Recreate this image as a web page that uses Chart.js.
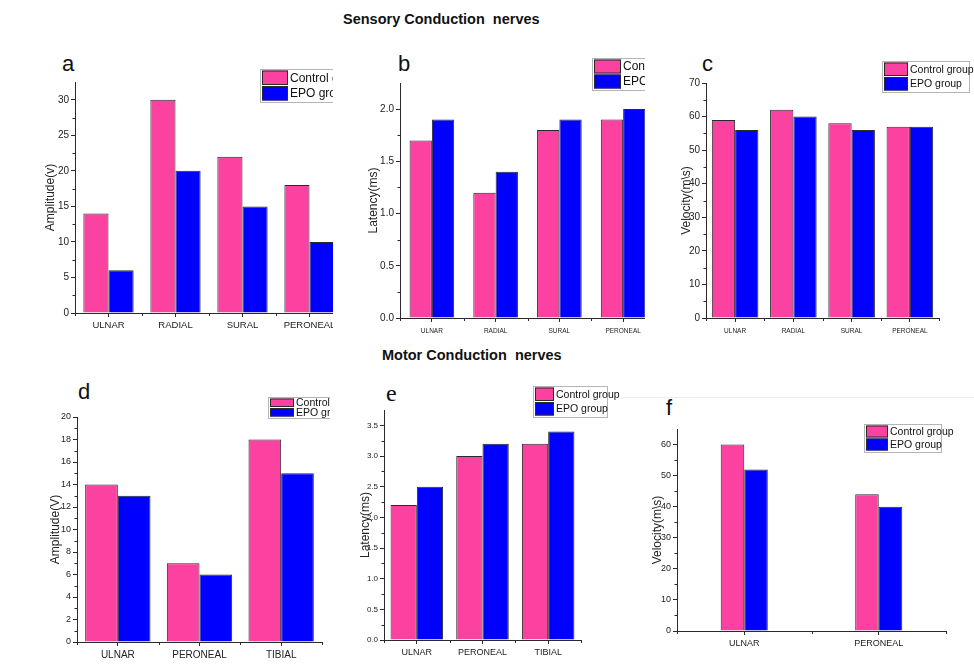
<!DOCTYPE html>
<html>
<head>
<meta charset="utf-8">
<script src="https://cdn.jsdelivr.net/npm/chart.js@4.4.1/dist/chart.umd.min.js"></script>
<style>
  body { margin: 0; background: #fff; font-family: "Liberation Sans", Arial, sans-serif; }
  #page { position: relative; width: 974px; height: 669px; overflow: hidden; }
  .clip { position: absolute; left: 0; top: 0; height: 669px; overflow: hidden; }
  .txt { position: absolute; white-space: nowrap; color: #111; }
  .head { font-weight: bold; font-size: 14.5px; }
  .tag { font-size: 22px; line-height: 22px; }
  .rule { position: absolute; height: 1px; background: #ececec; }
</style>
</head>
<body>
<div id="page">
  <div class="rule" style="left:620px; top:397px; width:354px;"></div>
  <div class="txt head" style="left:343px; top:11px;">Sensory Conduction&nbsp; nerves</div>
  <div class="txt head" style="left:382px; top:347px;">Motor Conduction&nbsp; nerves</div>
  <div class="txt tag" style="left:62px; top:53px;">a</div>
  <div class="txt tag" style="left:398px; top:53px;">b</div>
  <div class="txt tag" style="left:702px; top:53px;">c</div>
  <div class="txt tag" style="left:78px; top:381px;">d</div>
  <div class="txt tag" style="left:386px; top:382px; font-family:'Liberation Serif', serif; font-size:24px;">e</div>
  <div class="txt tag" style="left:666px; top:397px;">f</div>
</div>
<script>
// categories
var sensoryNerves = ['ULNAR', 'RADIAL', 'SURAL', 'PERONEAL'];
var motorNerves = ['ULNAR', 'PERONEAL', 'TIBIAL'];
var motorVelNerves = ['ULNAR', 'PERONEAL'];
var groups = ['Control group', 'EPO group'];

// sensory conduction
var sensAmpControl = [14, 30, 22, 18];
var sensAmpEpo = [6, 20, 15, 10];
var sensLatControl = [1.7, 1.2, 1.8, 1.9];
var sensLatEpo = [1.9, 1.4, 1.9, 2.0];
var sensVelControl = [59, 62, 58, 57];
var sensVelEpo = [56, 60, 56, 57];

// motor conduction
var motAmpControl = [14, 7, 18];
var motAmpEpo = [13, 6, 15];
var motLatControl = [2.2, 3.0, 3.2];
var motLatEpo = [2.5, 3.2, 3.4];
var motVelControl = [60, 44];
var motVelEpo = [52, 40];

var pink = '#FC42A1';
var blue = '#0000FE';
var edge = '#2a2a2a';
var W = 974, H = 669;
var fam = '"Liberation Sans", Arial, sans-serif';

// Origin-style minor ticks on both axes
var minorTicks = {
    id: 'minorTicks',
    afterDraw: function(chart, args, o) {
        var ctx = chart.ctx, xs = chart.scales.x, ys = chart.scales.y;
        var area = chart.chartArea;
        ctx.save();
        ctx.strokeStyle = edge;
        ctx.lineWidth = 1;
        ctx.beginPath();
        for (var v = o.minor; v < ys.max; v += o.minor) {
            var r = v / o.step;
            if (Math.abs(r - Math.round(r)) < 1e-6) continue;
            var py = Math.round(ys.getPixelForValue(v)) + 0.5;
            ctx.moveTo(area.left - 2.5, py);
            ctx.lineTo(area.left, py);
        }
        for (var i = 0; i <= xs.ticks.length; i++) {
            var px = Math.round(xs.getPixelForValue(i - 0.5)) + 0.5;
            ctx.moveTo(px, area.bottom);
            ctx.lineTo(px, area.bottom + 3);
        }
        ctx.stroke();
        ctx.restore();
    }
};

// boxed legend like the original figure
var boxLegend = {
    id: 'boxLegend',
    afterDraw: function(chart, args, o) {
        var ctx = chart.ctx;
        var sets = chart.data.datasets;
        var rowH = (o.h - 2) / sets.length;
        ctx.save();
        ctx.fillStyle = '#fff';
        ctx.fillRect(o.x, o.y, o.w, o.h);
        ctx.strokeStyle = '#b5b5b5';
        ctx.lineWidth = 1;
        ctx.strokeRect(o.x + 0.5, o.y + 0.5, o.w, o.h);
        sets.forEach(function(ds, i) {
            var y = o.y + 1 + i * rowH;
            ctx.fillStyle = ds.backgroundColor;
            ctx.fillRect(o.x + 2, y + 0.5, o.sw, rowH - 1);
            ctx.strokeStyle = edge;
            ctx.strokeRect(o.x + 2.5, y + 1, o.sw - 1, rowH - 2);
            ctx.fillStyle = '#111';
            ctx.font = o.size + 'px ' + fam;
            ctx.textBaseline = 'middle';
            ctx.fillText(ds.label, o.x + o.sw + 4, y + rowH / 2 + 0.5);
        });
        ctx.restore();
    }
};

function panel(p) {
    var wrap = document.createElement('div');
    wrap.className = 'clip';
    wrap.style.width = (p.clip || W) + 'px';
    var canvas = document.createElement('canvas');
    canvas.width = W;
    canvas.height = H;
    wrap.appendChild(canvas);
    document.getElementById('page').appendChild(wrap);

    var ytw = p.yw, xh = 26;
    new Chart(canvas, {
        type: 'bar',
        data: {
            labels: p.labels,
            datasets: [
                { label: groups[0], data: p.control, backgroundColor: pink },
                { label: groups[1], data: p.epo, backgroundColor: blue }
            ]
        },
        options: {
            responsive: false,
            animation: false,
            devicePixelRatio: 1,
            layout: {
                padding: { left: p.L - ytw, top: p.T, right: W - p.R, bottom: H - p.B - xh }
            },
            datasets: {
                bar: {
                    categoryPercentage: p.ratio,
                    barPercentage: 1,
                    borderColor: edge,
                    borderWidth: 1,
                    borderSkipped: 'bottom'
                }
            },
            scales: {
                x: {
                    afterFit: function(s) { s.height = xh; },
                    border: { display: true, color: edge, width: 1 },
                    grid: { offset: false, drawOnChartArea: false, drawTicks: true, tickLength: 4, color: edge },
                    ticks: { color: '#222', padding: p.xpad || 3, font: { family: fam, size: p.xfs }, maxRotation: 0 }
                },
                y: {
                    min: 0,
                    max: p.max,
                    afterFit: function(s) { s.width = ytw; },
                    afterBuildTicks: function(s) {
                        s.ticks = s.ticks.filter(function(t) {
                            var r = t.value / p.step;
                            return Math.abs(r - Math.round(r)) < 1e-6;
                        });
                    },
                    border: { display: true, color: edge, width: 1 },
                    grid: { drawOnChartArea: false, drawTicks: true, tickLength: 4, color: edge },
                    ticks: {
                        stepSize: p.step,
                        color: '#222',
                        padding: 2,
                        font: { family: fam, size: p.yfs },
                        callback: function(v) { return p.dec ? Number(v).toFixed(p.dec) : v; }
                    },
                    title: {
                        display: true,
                        text: p.ytitle,
                        color: '#222',
                        padding: 0,
                        font: { family: fam, size: 12 }
                    }
                }
            },
            plugins: {
                legend: { display: false },
                tooltip: { enabled: false },
                minorTicks: { step: p.step, minor: p.step / 2 },
                boxLegend: p.legend
            }
        },
        plugins: [minorTicks, boxLegend]
    });
}

// a: sensory amplitude
panel({ labels: sensoryNerves, control: sensAmpControl, epo: sensAmpEpo,
    L: 75, T: 82, R: 343, B: 313, clip: 333, yw: 32, ratio: 0.75,
    max: 32.5, step: 5, ytitle: 'Amplitude(v)', yfs: 10, xfs: 9.5,
    legend: { x: 260, y: 69, w: 90, h: 33, sw: 26, size: 12 } });

// b: sensory latency
panel({ labels: sensoryNerves, control: sensLatControl, epo: sensLatEpo,
    L: 400, T: 83, R: 655, B: 318, clip: 645, yw: 34, ratio: 0.7,
    max: 2.25, step: 0.5, dec: 1, ytitle: 'Latency(ms)', yfs: 10, xfs: 6.5, xpad: 5,
    legend: { x: 592, y: 58, w: 70, h: 32, sw: 27, size: 12 } });

// c: sensory velocity
panel({ labels: sensoryNerves, control: sensVelControl, epo: sensVelEpo,
    L: 706, T: 83, R: 939, B: 318, yw: 27, ratio: 0.8,
    max: 70, step: 10, ytitle: 'Velocity(m\\s)', yfs: 10, xfs: 6.5, xpad: 5,
    legend: { x: 882, y: 61, w: 87, h: 31, sw: 24, size: 10.5 } });

// d: motor amplitude
panel({ labels: motorNerves, control: motAmpControl, epo: motAmpEpo,
    L: 77, T: 417, R: 322, B: 642, clip: 330, yw: 29, ratio: 0.8,
    max: 20, step: 2, ytitle: 'Amplitude(V)', yfs: 9, xfs: 10,
    legend: { x: 268, y: 397, w: 80, h: 21, sw: 24, size: 10.5 } });

// e: motor latency
panel({ labels: motorNerves, control: motLatControl, epo: motLatEpo,
    L: 384, T: 410, R: 581, B: 640, yw: 26, ratio: 0.8,
    max: 3.75, step: 0.5, dec: 1, ytitle: 'Latency(ms)', yfs: 8, xfs: 9,
    legend: { x: 533, y: 386, w: 74, h: 31, sw: 19, size: 10.5 } });

// f: motor velocity
panel({ labels: motorVelNerves, control: motVelControl, epo: motVelEpo,
    L: 677, T: 429, R: 946, B: 631, yw: 27, ratio: 0.35,
    max: 65, step: 10, ytitle: 'Velocity(m\\s)', yfs: 9, xfs: 9,
    legend: { x: 864, y: 424, w: 77, h: 28, sw: 22, size: 10.5 } });
</script>
</body>
</html>
